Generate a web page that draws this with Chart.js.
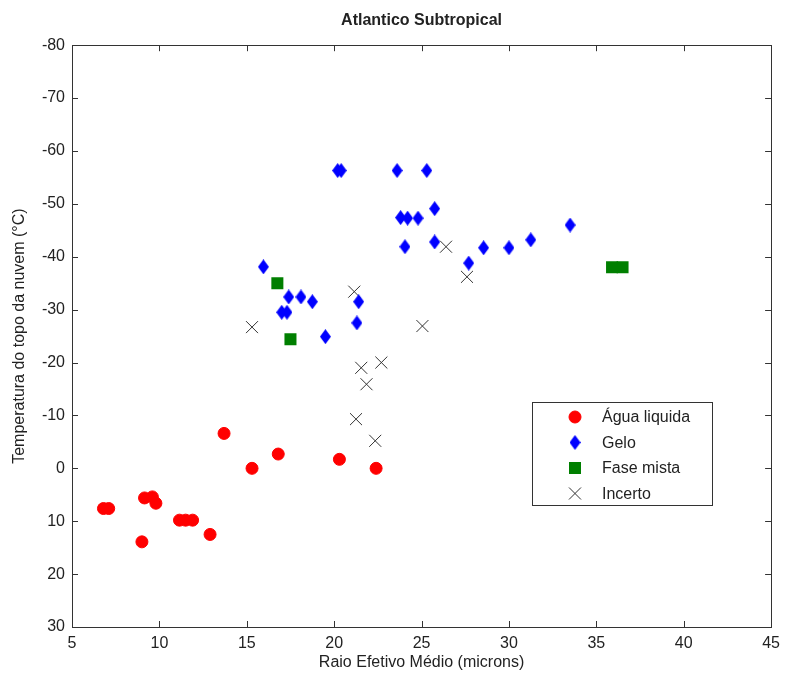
<!DOCTYPE html>
<html>
<head>
<meta charset="utf-8">
<script src="https://cdn.jsdelivr.net/npm/chart.js@4/dist/chart.umd.min.js"></script>
<style>
  body { margin: 0; background: #fff; }
  canvas { display: block; }
</style>
</head>
<body>
<canvas id="chart" width="787" height="677"></canvas>
<script>
// Raio efetivo (x) and temperatura do topo (y) per phase
const aguaX = [6.8, 7.1, 9.0, 9.15, 9.6, 9.8, 11.15, 11.5, 11.9, 12.9, 13.7, 15.3, 16.8, 20.3, 22.4];
const aguaY = [7.6, 7.6, 13.9, 5.6, 5.4, 6.6, 9.8, 9.8, 9.8, 12.5, -6.6, 0, -2.7, -1.7, 0];

const geloX = [20.2, 20.4, 23.6, 25.3, 23.8, 24.2, 24.8, 25.75, 24.05, 25.75, 27.7, 28.55,
               30.0, 31.25, 33.5, 15.95, 17.4, 18.1, 18.75, 17.0, 17.3, 19.5, 21.4, 21.3];
const geloY = [-56.3, -56.3, -56.3, -56.3, -47.4, -47.3, -47.3, -49.1, -41.9, -42.8, -38.8, -41.7,
               -41.7, -43.2, -46.0, -38.1, -32.4, -32.4, -31.5, -29.5, -29.5, -24.9, -31.5, -27.5];

const mistaX = [16.75, 17.5, 35.9, 36.5];
const mistaY = [-35.0, -24.4, -38.0, -38.0];

const incertoX = [15.3, 21.15, 25.05, 26.4, 27.6, 21.55, 22.7, 21.85, 21.25, 22.35];
const incertoY = [-26.7, -33.4, -26.9, -41.9, -36.2, -19.0, -20.0, -15.9, -9.3, -5.2];

const labels = ['Água liquida', 'Gelo', 'Fase mista', 'Incerto'];
const xTicks = [5, 10, 15, 20, 25, 30, 35, 40, 45];
const yTicks = [-80, -70, -60, -50, -40, -30, -20, -10, 0, 10, 20, 30];

const fontFamily = 'Arial, "Liberation Sans", sans-serif';
const textColor = '#222';

// turn two arrays into {x, y} points
function toPoints(xs, ys) {
    return xs.map((x, i) => ({ x: x, y: ys[i] }));
}

// tall diamond like the matlab 'd' marker
function makeDiamond(w, h, color) {
    const c = document.createElement('canvas');
    c.width = w;
    c.height = h;
    const g = c.getContext('2d');
    g.fillStyle = color;
    g.beginPath();
    g.moveTo(w / 2, 0);
    g.lineTo(w, h / 2);
    g.lineTo(w / 2, h);
    g.lineTo(0, h / 2);
    g.closePath();
    g.fill();
    return c;
}
const diamond = makeDiamond(11, 15, '#0000ff');

// inward ticks on all four sides plus the box
const boxTicks = {
    id: 'boxTicks',
    afterDraw(chart) {
        const ctx = chart.ctx;
        const a = chart.chartArea;
        const xs = chart.scales.x, ys = chart.scales.y;
        const len = 6;
        ctx.save();
        ctx.strokeStyle = '#333';
        ctx.lineWidth = 1;
        ctx.beginPath();
        xTicks.forEach((v) => {
            const px = Math.round(xs.getPixelForValue(v)) + 0.5;
            ctx.moveTo(px, a.bottom); ctx.lineTo(px, a.bottom - len);
            ctx.moveTo(px, a.top); ctx.lineTo(px, a.top + len);
        });
        yTicks.forEach((v) => {
            const py = Math.round(ys.getPixelForValue(v)) + 0.5;
            ctx.moveTo(a.left, py); ctx.lineTo(a.left + len, py);
            ctx.moveTo(a.right, py); ctx.lineTo(a.right - len, py);
        });
        ctx.stroke();
        ctx.strokeRect(Math.round(a.left) + 0.5, Math.round(a.top) + 0.5,
                       Math.round(a.right - a.left), Math.round(a.bottom - a.top));
        ctx.restore();
    }
};

// legend box inside the plot, lower right
const boxLegend = {
    id: 'boxLegend',
    afterDraw(chart) {
        const ctx = chart.ctx;
        const left = 532, top = 402, w = 180, h = 103;
        ctx.save();
        ctx.fillStyle = '#fff';
        ctx.fillRect(left, top, w, h);
        ctx.strokeStyle = '#333';
        ctx.lineWidth = 1;
        ctx.strokeRect(left + 0.5, top + 0.5, w, h);
        ctx.font = '16px ' + fontFamily;
        ctx.textBaseline = 'middle';
        chart.data.datasets.forEach((ds, i) => {
            const y = top + 15 + i * 25.5;
            ctx.fillStyle = ds.backgroundColor;
            ctx.strokeStyle = ds.borderColor;
            ctx.lineWidth = ds.borderWidth;
            Chart.helpers.drawPoint(ctx, {
                pointStyle: ds.pointStyle,
                radius: ds.pointRadius,
                rotation: 0,
                borderWidth: ds.borderWidth
            }, left + 43, y);
            ctx.fillStyle = textColor;
            ctx.fillText(ds.label, left + 70, y + 1);
        });
        ctx.restore();
    }
};

const ctx = document.getElementById('chart');
const myChart = new Chart(ctx, {
    type: 'scatter',
    data: {
        datasets: [{
            label: labels[0],
            data: toPoints(aguaX, aguaY),
            pointStyle: 'circle',
            pointRadius: 6,
            backgroundColor: '#ff0000',
            borderColor: '#ff0000',
            borderWidth: 1
        }, {
            label: labels[1],
            data: toPoints(geloX, geloY),
            pointStyle: diamond,
            pointRadius: 7,
            backgroundColor: '#0000ff',
            borderColor: '#0000ff',
            borderWidth: 1
        }, {
            label: labels[2],
            data: toPoints(mistaX, mistaY),
            pointStyle: 'rect',
            pointRadius: 8.5,
            backgroundColor: '#007f00',
            borderColor: '#007f00',
            borderWidth: 0
        }, {
            label: labels[3],
            data: toPoints(incertoX, incertoY),
            pointStyle: 'crossRot',
            pointRadius: 8.5,
            backgroundColor: '#333',
            borderColor: '#333',
            borderWidth: 1
        }]
    },
    options: {
        responsive: false,
        animation: false,
        layout: { padding: { left: 0, right: 12, top: 0, bottom: 0 } },
        plugins: {
            legend: { display: false },
            tooltip: { enabled: false },
            title: {
                display: true,
                text: 'Atlantico Subtropical',
                fullSize: false,
                color: textColor,
                font: { family: fontFamily, size: 16, weight: 'bold' },
                padding: { top: 11, bottom: 15 }
            }
        },
        scales: {
            x: {
                type: 'linear',
                min: 5,
                max: 45,
                afterFit: (s) => { s.height = 50; },
                afterBuildTicks: (s) => { s.ticks = xTicks.map((v) => ({ value: v })); },
                grid: { display: false, drawTicks: false },
                border: { display: false },
                ticks: { color: textColor, padding: 7, font: { family: fontFamily, size: 16 } },
                title: {
                    display: true,
                    text: 'Raio Efetivo Médio (microns)',
                    color: textColor,
                    font: { family: fontFamily, size: 16 },
                    padding: { top: 0, bottom: 5 }
                }
            },
            y: {
                type: 'linear',
                reverse: true,
                min: -80,
                max: 30,
                afterFit: (s) => { s.width = 72; },
                afterBuildTicks: (s) => { s.ticks = yTicks.map((v) => ({ value: v })); },
                grid: { display: false, drawTicks: false },
                border: { display: false },
                ticks: { color: textColor, padding: 7, font: { family: fontFamily, size: 16 } },
                title: {
                    display: true,
                    text: 'Temperatura do topo da nuvem (°C)',
                    color: textColor,
                    font: { family: fontFamily, size: 16 },
                    padding: { top: 10, bottom: 0 }
                }
            }
        }
    },
    plugins: [boxTicks, boxLegend]
});
</script>
</body>
</html>
